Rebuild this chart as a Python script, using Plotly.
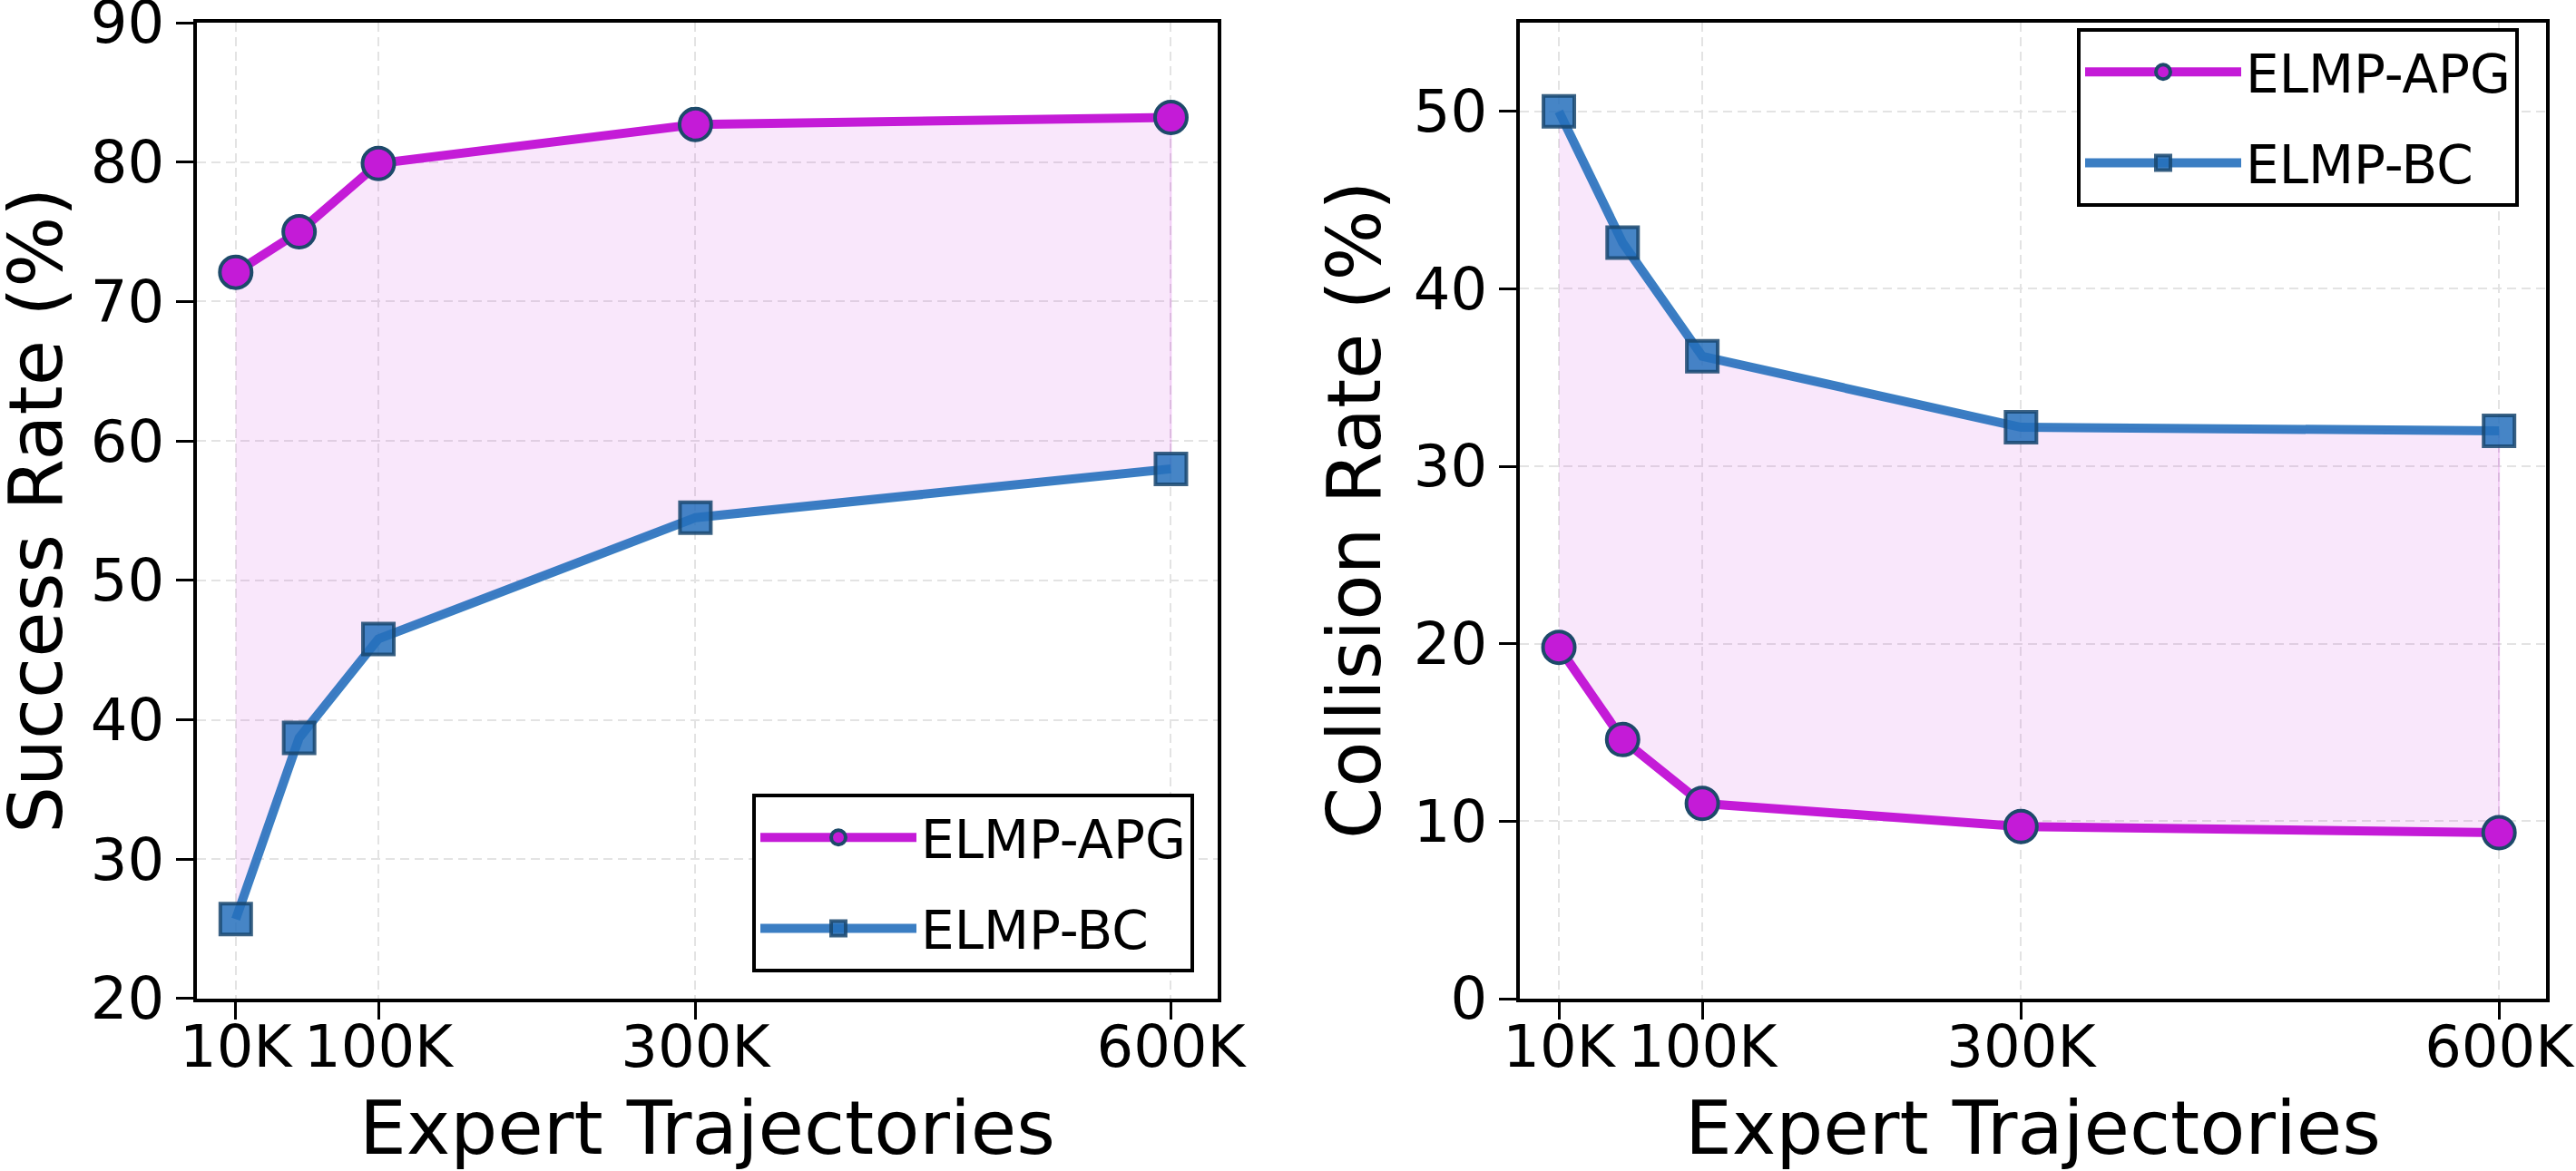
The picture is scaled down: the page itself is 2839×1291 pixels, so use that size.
import plotly.graph_objects as go

# ---- data ----
x_vals = [10, 50, 100, 300, 600]
tick_vals = [10, 100, 300, 600]
tick_text = ["10K", "100K", "300K", "600K"]
success_apg = [72.1, 75.0, 79.9, 82.7, 83.2]
success_bc = [25.7, 38.7, 45.8, 54.5, 58.0]
collision_apg = [19.8, 14.6, 11.0, 9.7, 9.35]
collision_bc = [50.0, 42.6, 36.2, 32.2, 32.0]
series_names = ["ELMP-APG", "ELMP-BC"]
y_titles = ["Success Rate (%)", "Collision Rate (%)"]
x_title = "Expert Trajectories"

W, H = 2839, 1291
APG = "#c41bd7"
BC_LINE = "rgba(38,112,188,0.9)"
BC_FILL = "rgba(38,112,188,0.85)"
EDGE = "#1d4a6a"
FILL = "rgba(200,40,215,0.11)"
FONT = "DejaVu Sans"

fig = go.Figure()

def add_panel(xa, ya, apg, bc, legend):
    fig.add_trace(go.Scatter(
        x=x_vals + x_vals[::-1], y=apg + bc[::-1], fill="toself",
        fillcolor=FILL, line=dict(color="rgba(200,40,215,0.18)", width=2),
        mode="lines", showlegend=False, hoverinfo="skip", xaxis=xa, yaxis=ya))
    fig.add_trace(go.Scatter(
        x=x_vals, y=apg, mode="lines+markers", name=series_names[0],
        line=dict(color=APG, width=10),
        marker=dict(symbol="circle", size=35, color=APG, line=dict(color=EDGE, width=4)),
        xaxis=xa, yaxis=ya, legend=legend, legendgroup="a" + legend))
    fig.add_trace(go.Scatter(
        x=x_vals, y=bc, mode="lines+markers", name=series_names[1],
        line=dict(color=BC_LINE, width=10),
        marker=dict(symbol="square", size=34, color=BC_FILL,
                    line=dict(color="rgba(25,70,110,0.85)", width=4)),
        xaxis=xa, yaxis=ya, legend=legend, legendgroup="b" + legend))

add_panel("x", "y", success_apg, success_bc, "legend")
add_panel("x2", "y2", collision_apg, collision_bc, "legend2")

TOP, BOT = 25, 1101
LEFT1, RIGHT1 = 217, 1342
LEFT2, RIGHT2 = 1675, 2806
ydom = [1 - BOT / H, 1 - TOP / H]
common_axis = dict(
    showline=True, linecolor="black", linewidth=4, mirror=True,
    ticks="outside", ticklen=19, tickwidth=3, tickcolor="black",
    showgrid=True, gridcolor="#e3e3e3", gridwidth=2, griddash="10px,6px",
    zeroline=False, tickfont=dict(family=FONT, size=64, color="black"),
    automargin=False, ticklabeloverflow="allow",
)
xtitle = dict(text=x_title, font=dict(family=FONT, size=82, color="black"), standoff=52)

legend_common = dict(bgcolor="white", bordercolor="black", borderwidth=4,
                     font=dict(family=FONT, size=58, color="black"), itemwidth=172,
                     tracegroupgap=22, entrywidth=330, entrywidthmode="pixels")

fig.update_layout(
    width=W, height=H, margin=dict(l=0, r=0, t=0, b=0),
    paper_bgcolor="white", plot_bgcolor="white",
    font=dict(family=FONT, color="black"),
    xaxis=dict(domain=[LEFT1 / W, RIGHT1 / W], range=[-14.5, 629.5], tickvals=tick_vals,
               ticktext=tick_text, title=xtitle, anchor="y", ticklabelstandoff=-25, **common_axis),
    yaxis=dict(domain=ydom, range=[19.999, 90.001], tickvals=[20, 30, 40, 50, 60, 70, 80, 90],
               anchor="x", **common_axis),
    xaxis2=dict(domain=[LEFT2 / W, RIGHT2 / W], range=[-14.5, 629.5], tickvals=tick_vals,
                ticktext=tick_text, title=xtitle, anchor="y2", ticklabelstandoff=-25, **common_axis),
    yaxis2=dict(domain=ydom, range=[0, 55], tickvals=[0, 10, 20, 30, 40, 50], anchor="x2",
                **common_axis),
    legend=dict(x=1316 / W, y=1 - 1072 / H, xanchor="right", yanchor="bottom", **legend_common),
    legend2=dict(x=2776 / W, y=1 - 31 / H, xanchor="right", yanchor="top", **legend_common),
)

ymid = 1 - (TOP + BOT) / 2 / H
for text, spine, off in zip(y_titles, [LEFT1, LEFT2], [178, 183]):
    fig.add_annotation(text=text, xref="paper", yref="paper", x=(spine - off) / W, y=ymid,
                       xanchor="center", yanchor="middle", textangle=-90, showarrow=False,
                       font=dict(family=FONT, size=82, color="black"))

fig.write_html("out.html")
